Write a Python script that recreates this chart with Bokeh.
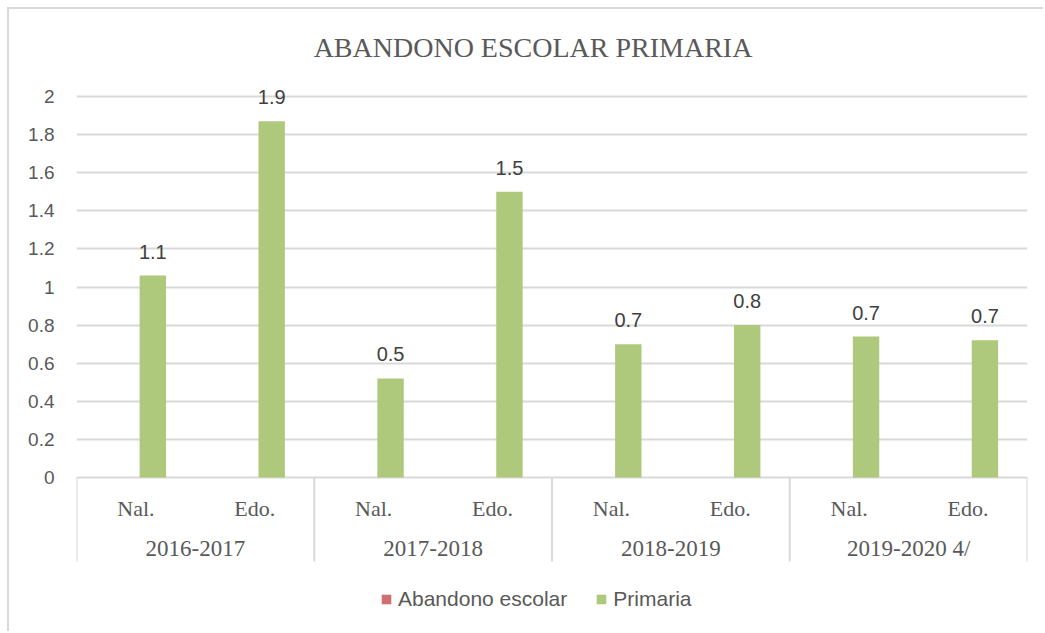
from bokeh.plotting import figure
from bokeh.models import Range1d, FixedTicker, Legend, LegendItem, ColumnDataSource
from bokeh.core.properties import value
from bokeh.embed import file_html
from bokeh.resources import INLINE

# ---------------- data ----------------
chart_title = "ABANDONO ESCOLAR PRIMARIA"
years = ["2016-2017", "2017-2018", "2018-2019", "2019-2020 4/"]
subcats = ["Nal.", "Edo."]
series_names = ["Abandono escolar", "Primaria"]
abandono = [0, 0, 0, 0, 0, 0, 0, 0]
primaria = [1.06, 1.87, 0.52, 1.50, 0.70, 0.80, 0.74, 0.72]
primaria_labels = ["1.1", "1.9", "0.5", "1.5", "0.7", "0.8", "0.7", "0.7"]
y_ticks = [0, 0.2, 0.4, 0.6, 0.8, 1, 1.2, 1.4, 1.6, 1.8, 2]
y_tick_labels = ["0", "0.2", "0.4", "0.6", "0.8", "1", "1.2", "1.4", "1.6", "1.8", "2"]

# ---------------- layout constants ----------------
OFF = 9                      # margin (7px) + border (2px) of the chart box
W, H = 1045 - OFF, 633 - OFF
FRAME_L, FRAME_R = 76 - OFF, 1027 - OFF
Y0_PX, YMAX_PX = 477 - OFF, 96 - OFF
PPU = (Y0_PX - YMAX_PX) / (y_ticks[-1] - y_ticks[0])
y_top = Y0_PX / PPU
y_bot = -(H - Y0_PX) / PPU
n = len(years) * len(subcats)
BAR_W = 0.222
DODGE = 0.142

GRID = "#d9d9d9"
GREEN = "#AEC97C"
RED = "#CF6F6F"
TXT = "#595959"

p = figure(width=W, height=H, x_range=Range1d(0, n), y_range=Range1d(y_bot, y_top),
           x_axis_location=None, title=None, output_backend="svg", toolbar_location=None,
           min_border_left=FRAME_L, min_border_right=W - FRAME_R, min_border_top=0, min_border_bottom=0,
           outline_line_color=None, background_fill_color="white", border_fill_color="white")
p.styles = {"margin-left": "7px", "margin-top": "7px",
            "border-left": "2px solid #d9d9d9", "border-top": "2px solid #d9d9d9"}

# axis / grid
p.yaxis.ticker = FixedTicker(ticks=y_ticks)
p.yaxis.major_label_overrides = {t: l for t, l in zip(y_ticks, y_tick_labels)}
p.yaxis.axis_line_color = None
p.yaxis.major_tick_line_color = None
p.yaxis.minor_tick_line_color = None
p.yaxis.major_tick_out = 0
p.yaxis.major_tick_in = 0
p.yaxis.minor_tick_out = 0
p.yaxis.major_label_standoff = 22
p.yaxis.major_label_text_font = "Liberation Sans"
p.yaxis.major_label_text_font_size = "19px"
p.yaxis.major_label_text_color = TXT
p.xgrid.grid_line_color = None
p.ygrid.ticker = FixedTicker(ticks=y_ticks)
p.ygrid.grid_line_color = GRID
p.ygrid.grid_line_width = 2

slot_x = [i + 0.5 for i in range(n)]
src = ColumnDataSource(dict(
    xr=[x - DODGE for x in slot_x], xg=[x + DODGE for x in slot_x],
    abandono=abandono, primaria=primaria, lab=primaria_labels,
    sub=[subcats[i % len(subcats)] for i in range(n)], xs=slot_x))

r_red = p.vbar(x="xr", top="abandono", bottom=0, width=BAR_W, source=src, fill_color=RED, line_color=None)
r_green = p.vbar(x="xg", top="primaria", bottom=0, width=BAR_W, source=src, fill_color=GREEN, line_color=None)

# data labels
p.text(x="xg", y="primaria", text="lab", source=src, y_offset=-24, text_align="center",
       text_baseline="middle", text_font=value("Liberation Sans"), text_font_size="20px", text_color="#404040")

# category axis (two levels)
sep_depth = -84 / PPU
seps = list(range(0, n + 1, len(subcats)))
p.segment(x0=seps, y0=[0] * len(seps), x1=seps, y1=[sep_depth] * len(seps), line_color=GRID, line_width=2)
p.text(x="xs", y=0, text="sub", source=src, y_offset=31, text_align="center", text_baseline="middle",
       text_font=value("Liberation Serif"), text_font_size="22px", text_color=TXT)
grp_x = [g * len(subcats) + len(subcats) / 2 for g in range(len(years))]
p.text(x=grp_x, y=[0] * len(years), text=years, y_offset=71, text_align="center", text_baseline="middle",
       text_font=value("Liberation Serif"), text_font_size="23px", text_color=TXT)

# title
p.text(x=[n / 2], y=[y_ticks[-1]], text=[chart_title], x_offset=-19, y_offset=-49, text_align="center",
       text_baseline="middle", text_font=value("Liberation Serif"), text_font_size="28px", text_color=TXT)

# legend
legend = Legend(items=[LegendItem(label=series_names[0], renderers=[r_red]),
                       LegendItem(label=series_names[1], renderers=[r_green])],
                orientation="horizontal", location=(304, 22), glyph_width=12, glyph_height=12,
                label_text_font="Liberation Sans", label_text_font_size="21px", label_text_color=TXT,
                spacing=28, padding=0, margin=0, label_standoff=6, border_line_color=None,
                background_fill_alpha=0)
p.add_layout(legend)

open("out.html", "w").write(file_html(p, INLINE))
